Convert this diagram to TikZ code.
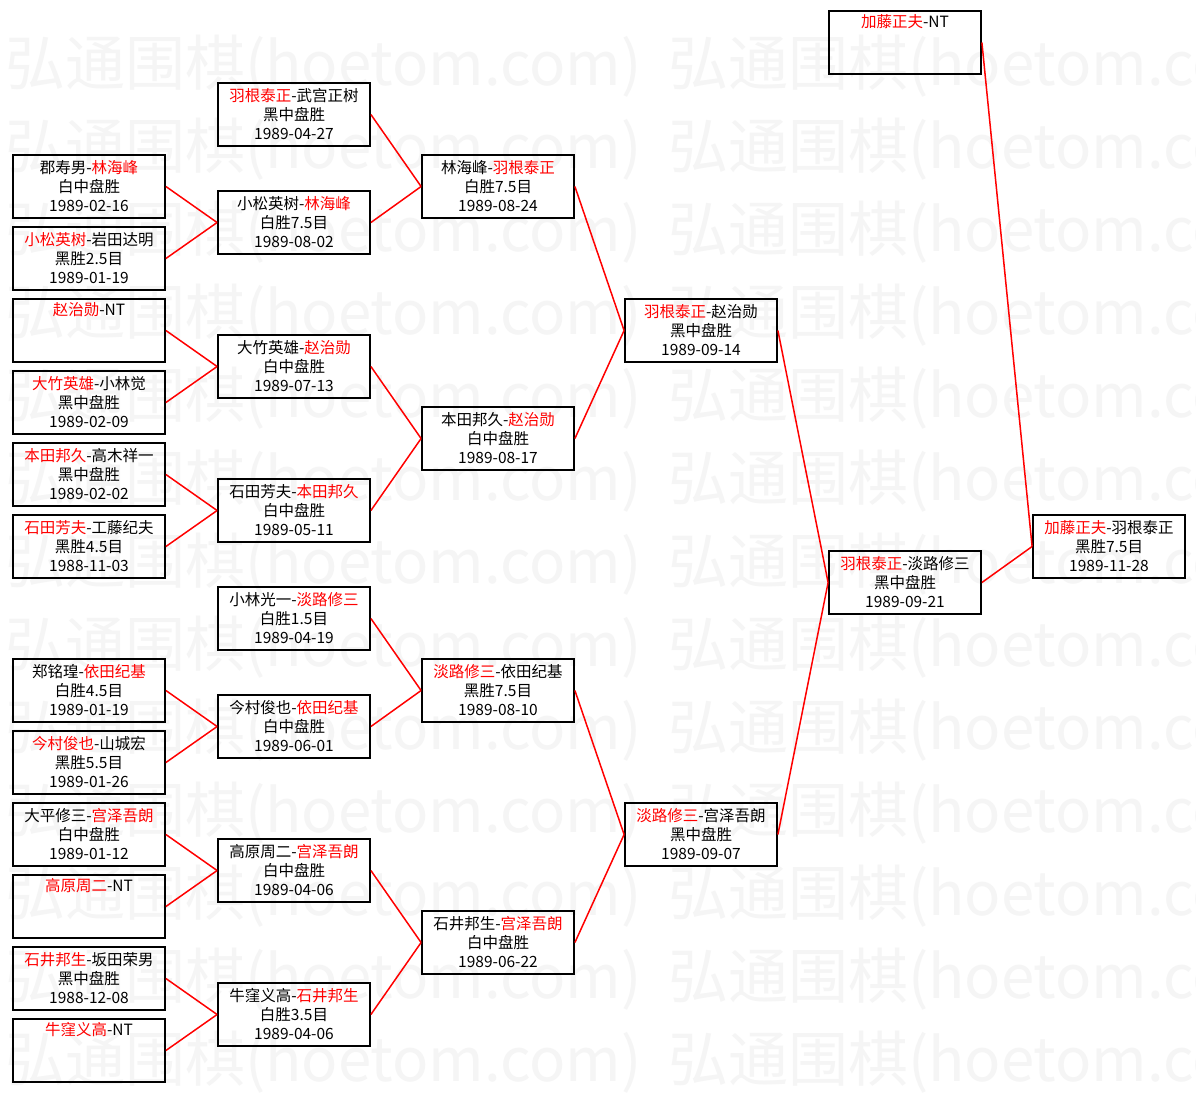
\documentclass[tikz,border=0pt]{standalone}
\usepackage{fontspec}
\newfontfamily\cjk{Noto Sans CJK SC}
\newcommand\rd[1]{\textcolor{red}{#1}}
\tikzset{
  box/.style={draw=black,line width=1.8pt,minimum width=152pt,minimum height=63pt,inner sep=0pt,align=center,font=\cjk\fontsize{15.5}{19}\selectfont},
  link/.style={draw=red,line width=1.5pt},
  wm/.style={text=black!4,font=\cjk\fontsize{60}{60}\selectfont,inner sep=0pt,anchor=west}
}
\begin{document}
\begin{tikzpicture}[x=1pt,y=-1pt]
\useasboundingbox (0,0) rectangle (1196,1093);
\fill[white] (0,0) rectangle (1196,1093);
\begin{scope}
\clip (0,0) rectangle (1196,1093);
\foreach \k in {0,...,12}{
  \node[wm] (wmA\k) at (5,{66+83*\k}) {弘通围棋(hoetom.com)};
  \node[wm] (wmB\k) at (668,{66+83*\k}) {弘通围棋(hoetom.com)};
}
\end{scope}
% column 1
\node[box] (c1a) at (89,186.5) {郡寿男-\rd{林海峰}\\白中盘胜\\1989-02-16};
\node[box] (c1b) at (89,258.5) {\rd{小松英树}-岩田达明\\黑胜2.5目\\1989-01-19};
\node[box] (c1c) at (89,330.5) {\rd{赵治勋}-NT\\\strut\\\strut};
\node[box] (c1d) at (89,402.5) {\rd{大竹英雄}-小林觉\\黑中盘胜\\1989-02-09};
\node[box] (c1e) at (89,474.5) {\rd{本田邦久}-高木祥一\\黑中盘胜\\1989-02-02};
\node[box] (c1f) at (89,546.5) {\rd{石田芳夫}-工藤纪夫\\黑胜4.5目\\1988-11-03};
\node[box] (c1g) at (89,690.5) {郑铭瑝-\rd{依田纪基}\\白胜4.5目\\1989-01-19};
\node[box] (c1h) at (89,762.5) {\rd{今村俊也}-山城宏\\黑胜5.5目\\1989-01-26};
\node[box] (c1i) at (89,834.5) {大平修三-\rd{宫泽吾朗}\\白中盘胜\\1989-01-12};
\node[box] (c1j) at (89,906.5) {\rd{高原周二}-NT\\\strut\\\strut};
\node[box] (c1k) at (89,978.5) {\rd{石井邦生}-坂田荣男\\黑中盘胜\\1988-12-08};
\node[box] (c1l) at (89,1050.5) {\rd{牛窪义高}-NT\\\strut\\\strut};
% column 2
\node[box] (c2a) at (294,114.5) {\rd{羽根泰正}-武宫正树\\黑中盘胜\\1989-04-27};
\node[box] (c2b) at (294,222.5) {小松英树-\rd{林海峰}\\白胜7.5目\\1989-08-02};
\node[box] (c2c) at (294,366.5) {大竹英雄-\rd{赵治勋}\\白中盘胜\\1989-07-13};
\node[box] (c2d) at (294,510.5) {石田芳夫-\rd{本田邦久}\\白中盘胜\\1989-05-11};
\node[box] (c2e) at (294,618.5) {小林光一-\rd{淡路修三}\\白胜1.5目\\1989-04-19};
\node[box] (c2f) at (294,726.5) {今村俊也-\rd{依田纪基}\\白中盘胜\\1989-06-01};
\node[box] (c2g) at (294,870.5) {高原周二-\rd{宫泽吾朗}\\白中盘胜\\1989-04-06};
\node[box] (c2h) at (294,1014.5) {牛窪义高-\rd{石井邦生}\\白胜3.5目\\1989-04-06};
% column 3
\node[box] (c3a) at (498,186.5) {林海峰-\rd{羽根泰正}\\白胜7.5目\\1989-08-24};
\node[box] (c3b) at (498,438.5) {本田邦久-\rd{赵治勋}\\白中盘胜\\1989-08-17};
\node[box] (c3c) at (498,690.5) {\rd{淡路修三}-依田纪基\\黑胜7.5目\\1989-08-10};
\node[box] (c3d) at (498,942.5) {石井邦生-\rd{宫泽吾朗}\\白中盘胜\\1989-06-22};
% column 4
\node[box] (c4a) at (701,330.5) {\rd{羽根泰正}-赵治勋\\黑中盘胜\\1989-09-14};
\node[box] (c4b) at (701,834.5) {\rd{淡路修三}-宫泽吾朗\\黑中盘胜\\1989-09-07};
% column 5
\node[box] (c5t) at (905,42.5) {\rd{加藤正夫}-NT\\\strut\\\strut};
\node[box] (c5a) at (905,582.5) {\rd{羽根泰正}-淡路修三\\黑中盘胜\\1989-09-21};
% column 6
\node[box] (c6) at (1109,546.5) {\rd{加藤正夫}-羽根泰正\\黑胜7.5目\\1989-11-28};
% links
\foreach \a/\b in {c1a/c2b,c1b/c2b,c1c/c2c,c1d/c2c,c1e/c2d,c1f/c2d,c1g/c2f,c1h/c2f,c1i/c2g,c1j/c2g,c1k/c2h,c1l/c2h,
  c2a/c3a,c2b/c3a,c2c/c3b,c2d/c3b,c2e/c3c,c2f/c3c,c2g/c3d,c2h/c3d,
  c3a/c4a,c3b/c4a,c3c/c4b,c3d/c4b,c4a/c5a,c4b/c5a,c5t/c6,c5a/c6}{
  \draw[link] (\a.east) -- (\b.west);
}
\end{tikzpicture}
\end{document}
